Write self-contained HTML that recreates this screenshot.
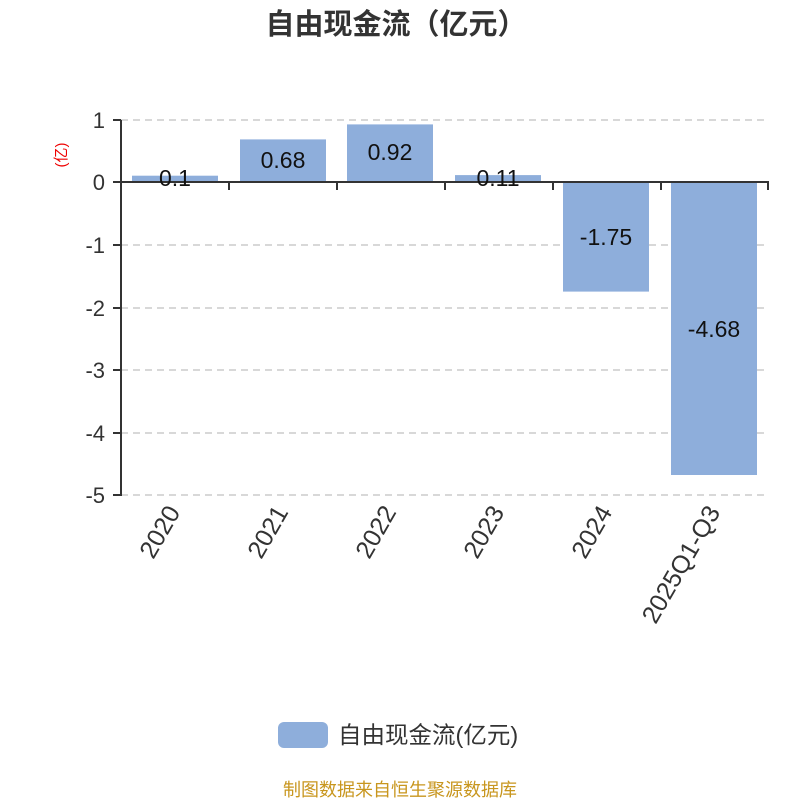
<!DOCTYPE html>
<html><head><meta charset="utf-8"><style>body{margin:0;background:#fff}</style></head><body>
<svg width="800" height="800" xmlns="http://www.w3.org/2000/svg" font-family="'Liberation Sans','Noto Sans CJK SC',sans-serif">
<rect width="800" height="800" fill="#fff"/>
<text x="396" y="34" text-anchor="middle" font-size="29" font-weight="bold" fill="#333">自由现金流（亿元）</text>
<g stroke="#ccc" stroke-width="1.5" stroke-dasharray="7,5">
<line x1="121" y1="120" x2="768" y2="120"/>
<line x1="121" y1="245" x2="768" y2="245"/>
<line x1="121" y1="308" x2="768" y2="308"/>
<line x1="121" y1="370" x2="768" y2="370"/>
<line x1="121" y1="433" x2="768" y2="433"/>
<line x1="121" y1="495" x2="768" y2="495"/>
</g>
<g fill="#8eaedb">
<rect x="132" y="175.7" width="86" height="6.3"/>
<rect x="240" y="139.4" width="86" height="42.6"/>
<rect x="347" y="124.4" width="86" height="57.6"/>
<rect x="455" y="175.1" width="86" height="6.9"/>
<rect x="563" y="182" width="86" height="109.6"/>
<rect x="671" y="182" width="86" height="293"/>
</g>
<g stroke="#333" stroke-width="2">
<line x1="121" y1="120" x2="121" y2="496"/>
<line x1="113" y1="120" x2="121" y2="120"/>
<line x1="113" y1="182" x2="121" y2="182"/>
<line x1="113" y1="245" x2="121" y2="245"/>
<line x1="113" y1="308" x2="121" y2="308"/>
<line x1="113" y1="370" x2="121" y2="370"/>
<line x1="113" y1="433" x2="121" y2="433"/>
<line x1="113" y1="495" x2="121" y2="495"/>
<line x1="121" y1="182" x2="769" y2="182"/>
<line x1="229" y1="182" x2="229" y2="190"/>
<line x1="337" y1="182" x2="337" y2="190"/>
<line x1="445" y1="182" x2="445" y2="190"/>
<line x1="553" y1="182" x2="553" y2="190"/>
<line x1="661" y1="182" x2="661" y2="190"/>
<line x1="768" y1="182" x2="768" y2="190"/>
</g>
<g font-size="22" fill="#333" text-anchor="end">
<text x="105" y="128">1</text>
<text x="105" y="190">0</text>
<text x="105" y="253">-1</text>
<text x="105" y="316">-2</text>
<text x="105" y="378">-3</text>
<text x="105" y="441">-4</text>
<text x="105" y="503">-5</text>
</g>
<text transform="translate(66,155) rotate(-90)" text-anchor="middle" font-size="15" fill="#e00">(亿)</text>
<g font-size="23" fill="#111" text-anchor="middle">
<text x="175" y="186">0.1</text>
<text x="283" y="168">0.68</text>
<text x="390" y="160">0.92</text>
<text x="498" y="186">0.11</text>
<text x="606" y="245">-1.75</text>
<text x="714" y="337">-4.68</text>
</g>
<g font-size="25" fill="#333" text-anchor="end">
<text transform="translate(181,512) rotate(-60)">2020</text>
<text transform="translate(289,512) rotate(-60)">2021</text>
<text transform="translate(397,512) rotate(-60)">2022</text>
<text transform="translate(505,512) rotate(-60)">2023</text>
<text transform="translate(613,512) rotate(-60)">2024</text>
<text transform="translate(721,512) rotate(-60)">2025Q1-Q3</text>
</g>
<rect x="278" y="722" width="50" height="26" rx="6" fill="#8eaedb"/>
<text x="338" y="743" font-size="23.5" fill="#333">自由现金流(亿元)</text>
<text x="400" y="796" text-anchor="middle" font-size="18" fill="#c8961e">制图数据来自恒生聚源数据库</text>
</svg>
</body></html>
